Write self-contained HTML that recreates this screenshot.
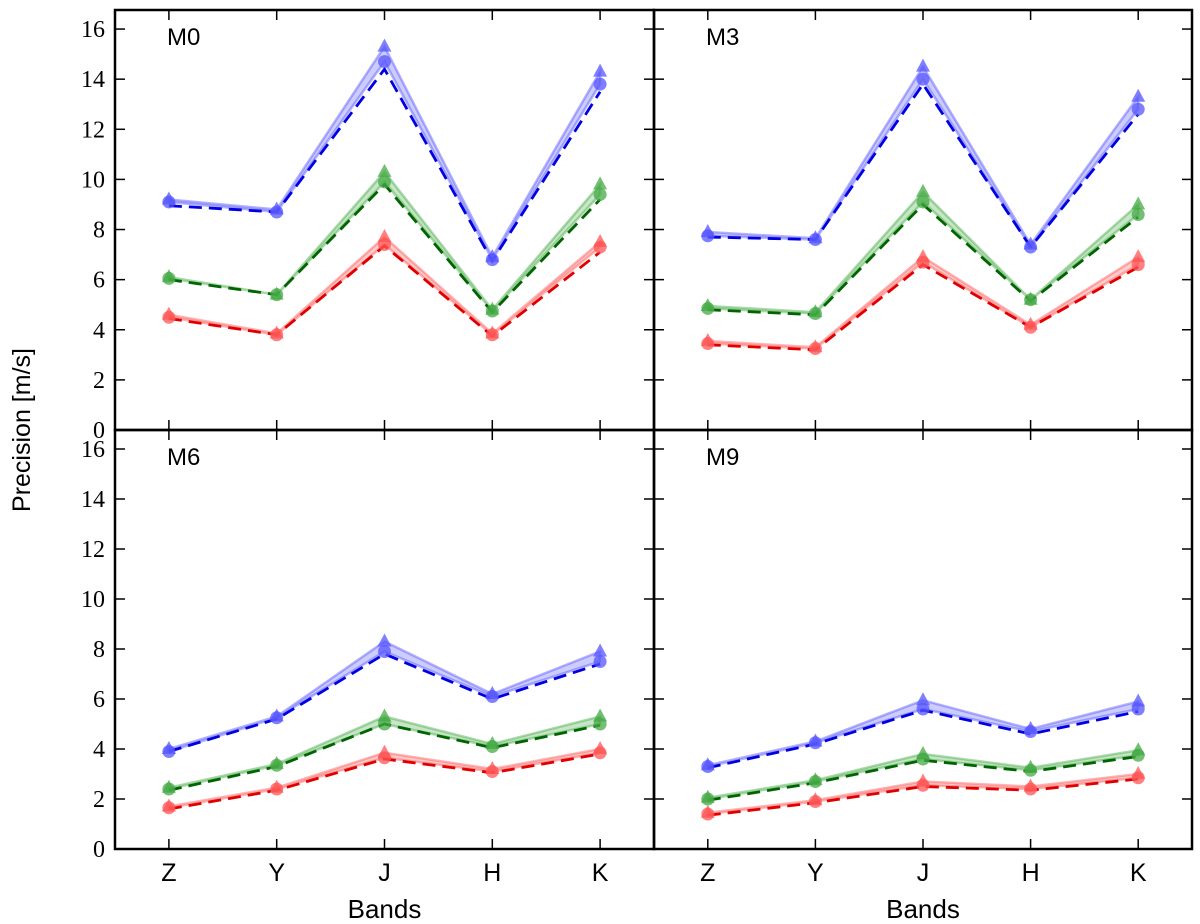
<!DOCTYPE html>
<html><head><meta charset="utf-8"><style>
html,body{margin:0;padding:0;background:#fff;}
svg{display:block;}
</style></head><body>
<svg id="chart" width="1200" height="924" xmlns="http://www.w3.org/2000/svg"></svg>
<script>
const bands = ["Z","Y","J","H","K"];
const panelNames = ["M0","M3","M6","M9"];
const yTicks = [0,2,4,6,8,10,12,14,16];
const m0BlueTri=[9.2,8.8,15.3,6.9,14.3], m0BlueCirc=[9.1,8.7,14.7,6.8,13.8], m0BlueDash=[8.95,8.7,14.4,6.75,13.5];
const m0GreenTri=[6.1,5.4,10.3,4.8,9.8], m0GreenCirc=[6.05,5.4,9.9,4.75,9.4], m0GreenDash=[6.0,5.4,9.8,4.7,9.2];
const m0RedTri=[4.6,3.85,7.7,3.85,7.5], m0RedCirc=[4.5,3.8,7.4,3.8,7.3], m0RedDash=[4.45,3.8,7.35,3.75,7.1];
const m3BlueTri=[7.9,7.65,14.5,7.4,13.3], m3BlueCirc=[7.75,7.6,14.0,7.3,12.8], m3BlueDash=[7.7,7.6,13.8,7.3,12.6];
const m3GreenTri=[4.95,4.7,9.5,5.2,9.0], m3GreenCirc=[4.85,4.65,9.1,5.2,8.6], m3GreenDash=[4.8,4.6,9.0,5.15,8.5];
const m3RedTri=[3.55,3.3,6.9,4.2,6.9], m3RedCirc=[3.45,3.25,6.7,4.1,6.6], m3RedDash=[3.4,3.2,6.6,4.1,6.5];
const m6BlueTri=[4.0,5.3,8.3,6.2,7.9], m6BlueCirc=[3.9,5.25,7.9,6.1,7.5], m6BlueDash=[3.9,5.2,7.8,6.0,7.4];
const m6GreenTri=[2.45,3.4,5.3,4.2,5.3], m6GreenCirc=[2.4,3.35,5.0,4.1,5.0], m6GreenDash=[2.35,3.3,5.0,4.05,4.95];
const m6RedTri=[1.7,2.45,3.85,3.2,4.0], m6RedCirc=[1.65,2.4,3.65,3.1,3.85], m6RedDash=[1.6,2.35,3.6,3.05,3.8];
const m9BlueTri=[3.35,4.3,5.95,4.8,5.9], m9BlueCirc=[3.3,4.25,5.6,4.7,5.6], m9BlueDash=[3.25,4.2,5.55,4.6,5.5];
const m9GreenTri=[2.05,2.75,3.8,3.25,3.95], m9GreenCirc=[2.0,2.7,3.6,3.15,3.75], m9GreenDash=[1.95,2.65,3.55,3.1,3.7];
const m9RedTri=[1.45,1.95,2.7,2.5,3.0], m9RedCirc=[1.4,1.9,2.55,2.4,2.85], m9RedDash=[1.35,1.85,2.5,2.35,2.8];

const panelData = [
 [[m0BlueTri,m0BlueCirc,m0BlueDash],[m0GreenTri,m0GreenCirc,m0GreenDash],[m0RedTri,m0RedCirc,m0RedDash]],
 [[m3BlueTri,m3BlueCirc,m3BlueDash],[m3GreenTri,m3GreenCirc,m3GreenDash],[m3RedTri,m3RedCirc,m3RedDash]],
 [[m6BlueTri,m6BlueCirc,m6BlueDash],[m6GreenTri,m6GreenCirc,m6GreenDash],[m6RedTri,m6RedCirc,m6RedDash]],
 [[m9BlueTri,m9BlueCirc,m9BlueDash],[m9GreenTri,m9GreenCirc,m9GreenDash],[m9RedTri,m9RedCirc,m9RedDash]]
];
const colorNames=["blue","green","red"];
const lightCol=["#5555ff","#44aa44","#ff5555"];
const darkCol=["#0000e0","#006400","#e00000"];

const svg=document.getElementById('chart');
const NS="http://www.w3.org/2000/svg";
function mk(tag,attrs,parent){const e=document.createElementNS(NS,tag);for(const k in attrs)e.setAttribute(k,attrs[k]);(parent||svg).appendChild(e);return e;}

const X0=115,XM=654,X1=1192,Y0=10,YM=430,Y1=849;
const YMAX=16.76;
const boxes=[[X0,Y0,XM,YM],[XM,Y0,X1,YM],[X0,YM,XM,Y1],[XM,YM,X1,Y1]];

boxes.forEach((b,pi)=>{
  const [l,t,r,bt]=b;
  const g=mk('g',{});
  
  
  const xs=i=>l+(i+0.5)*(r-l)/5;
  const ys=v=>bt-v*(bt-t)/YMAX;
  yTicks.forEach(v=>{
    mk('line',{x1:l,x2:l+10,y1:ys(v),y2:ys(v),stroke:'#000','stroke-width':1.5},g);
    mk('line',{x1:r,x2:r-10,y1:ys(v),y2:ys(v),stroke:'#000','stroke-width':1.5},g);
  });
  bands.forEach((bn,i)=>{
    mk('line',{x1:xs(i),x2:xs(i),y1:bt,y2:bt-10,stroke:'#000','stroke-width':1.5},g);
    mk('line',{x1:xs(i),x2:xs(i),y1:t,y2:t+10,stroke:'#000','stroke-width':1.5},g);
  });
  const lab=mk('text',{x:l+52,y:t+35,'font-family':'Liberation Sans, sans-serif','font-size':24},g);
  lab.textContent=panelNames[pi];
  
  
  panelData[pi].forEach((ser,ci)=>{
    const [tri,circ,dash]=ser;
    const sg=mk('g',{},g);
    
    
    let pts=tri.map((v,i)=>xs(i)+','+ys(v)).concat(circ.map((v,i)=>xs(i)+','+ys(v)).reverse());
    const band=mk('polygon',{points:pts.join(' '),fill:lightCol[ci],'fill-opacity':0.3,stroke:lightCol[ci],'stroke-opacity':0.45,'stroke-width':2.5},sg);
    
    
    const dl=mk('polyline',{points:dash.map((v,i)=>xs(i)+','+ys(v)).join(' '),fill:'none',stroke:darkCol[ci],'stroke-width':2.8,'stroke-dasharray':'13,7'},sg);
    
    
    circ.forEach((v,i)=>{
      const c=mk('circle',{cx:xs(i),cy:ys(v),r:6.5,fill:lightCol[ci],'fill-opacity':0.75},sg);
      
      
    });
    tri.forEach((v,i)=>{
      const x=xs(i),y=ys(v);
      const p=mk('polygon',{points:`${x},${y-8} ${x-7},${y+5} ${x+7},${y+5}`,fill:lightCol[ci],'fill-opacity':0.75},sg);
      
      
    });
  });
  if(pi%2===0){
    yTicks.forEach(v=>{
      if(pi===0 && v===0) return;
      const tx=mk('text',{x:l-10,y:ys(v)+8,'text-anchor':'end','font-family':'Liberation Serif, serif','font-size':24},g);
      tx.textContent=v;
      
      
    });
  }
  if(pi>=2){
    bands.forEach((bn,i)=>{
      const tx=mk('text',{x:xs(i),y:bt+32,'text-anchor':'middle','font-family':'Liberation Sans, sans-serif','font-size':25},g);
      tx.textContent=bn;
      
      
    });
    const xt=mk('text',{x:(l+r)/2,y:bt+69,'text-anchor':'middle','font-family':'Liberation Sans, sans-serif','font-size':26},g);
    xt.textContent='Bands';
    
    
  }
  const fr=mk('rect',{x:l,y:t,width:r-l,height:bt-t,fill:'none',stroke:'#000','stroke-width':2.5},g);
  
  
});
const z=mk('text',{x:105,y:438,'text-anchor':'end','font-family':'Liberation Serif, serif','font-size':24});
z.textContent='0';


const yt=mk('text',{x:30,y:430,'text-anchor':'middle','font-family':'Liberation Sans, sans-serif','font-size':25,transform:'rotate(-90 30 430)'});
yt.textContent='Precision [m/s]';


</script>
</body></html>
